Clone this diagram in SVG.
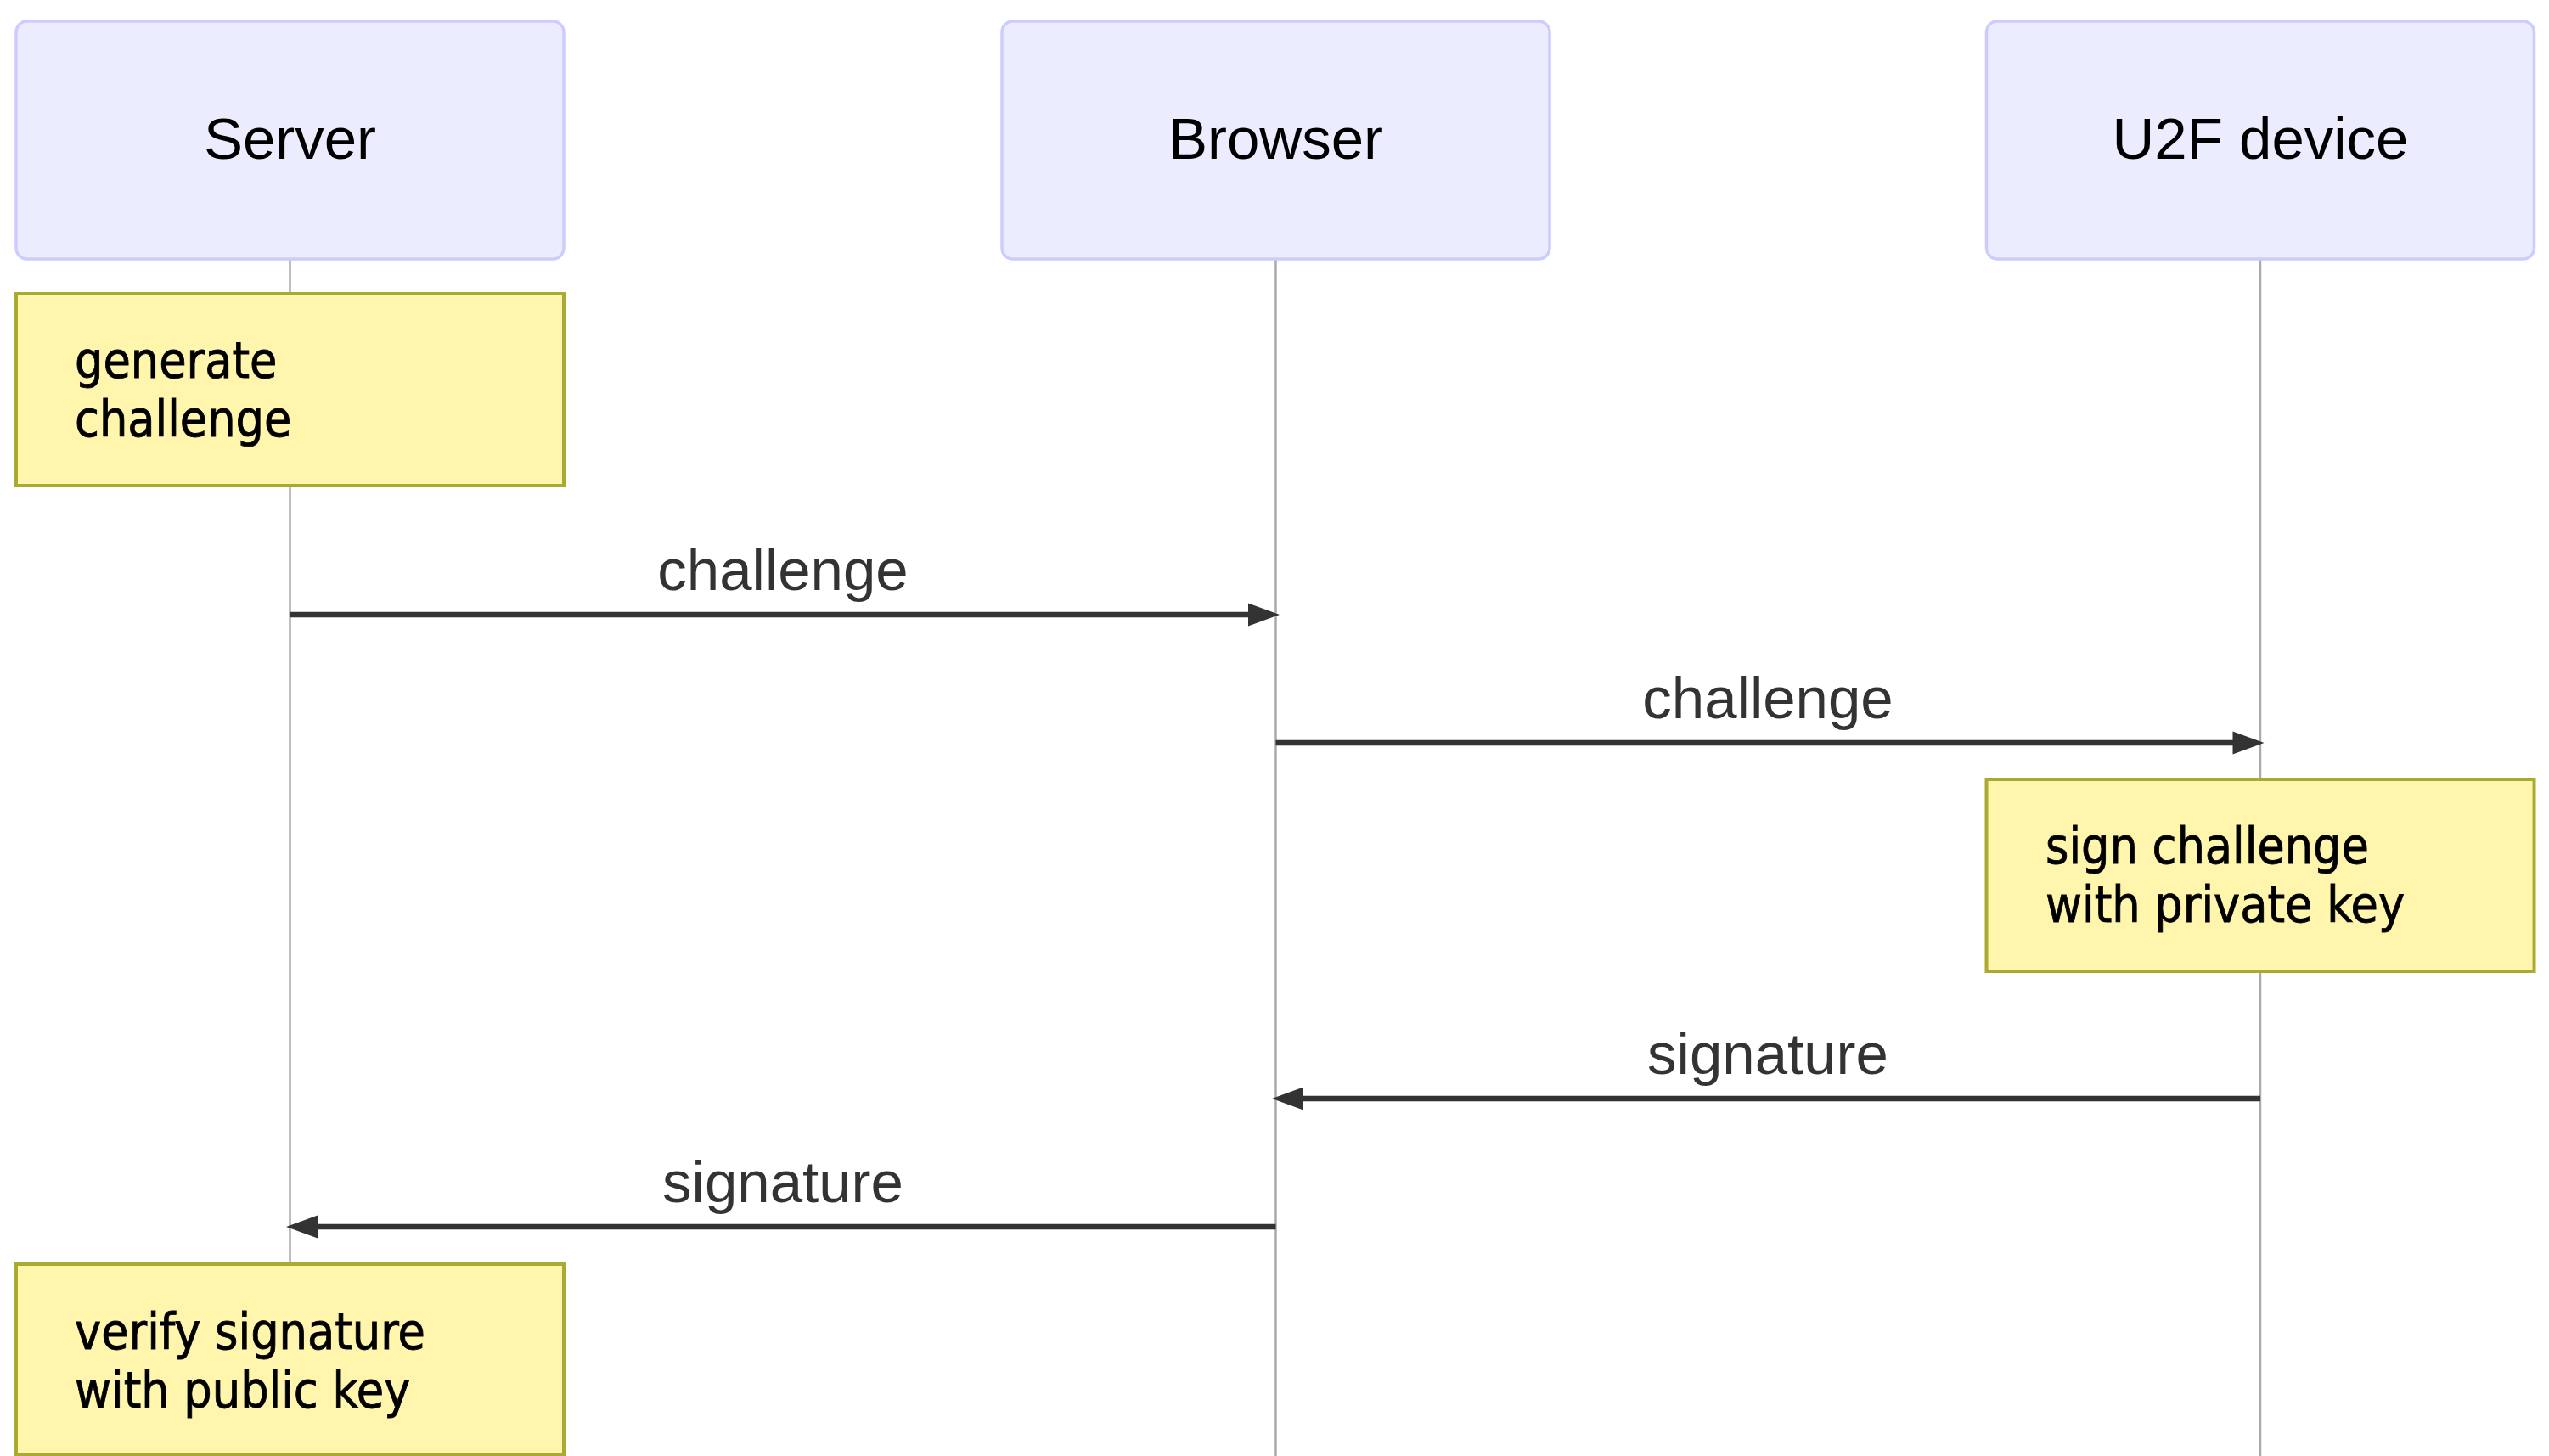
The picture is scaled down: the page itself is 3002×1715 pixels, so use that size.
<svg xmlns="http://www.w3.org/2000/svg" width="3002" height="1715" viewBox="0 0 3002 1715">
  <style>
    .actor rect { fill: #ECECFF; stroke: #CCCCFF; stroke-width: 3.5; }
    .actor text { font-family: "Liberation Sans", Arial, sans-serif; font-size: 69px; fill: #000; text-anchor: middle; }
    .lifeline { stroke: #aaaaaa; stroke-width: 2.5; }
    .note rect { fill: #FFF5AD; stroke: #AAAA33; stroke-width: 4; }
    .note text { font-family: "DejaVu Sans Condensed", "DejaVu Sans", sans-serif; font-stretch: semi-condensed; font-size: 58.5px; fill: #000; stroke: #000; stroke-width: 0.8; }
    .msg line { stroke: #333; stroke-width: 6.5; }
    .msg path { fill: #333; }
    .msg text { font-family: "Liberation Sans", Arial, sans-serif; font-size: 69px; fill: #333; text-anchor: middle; }
  </style>
  <rect x="0" y="0" width="3002" height="1715" fill="#ffffff"/>
  <g id="lifelines">
    <line class="lifeline" x1="341.5" y1="305" x2="341.5" y2="1715"/>
    <line class="lifeline" x1="1502.5" y1="305" x2="1502.5" y2="1715"/>
    <line class="lifeline" x1="2662" y1="305" x2="2662" y2="1715"/>
  </g>
  <g id="actor-server" class="actor">
    <rect x="19" y="25" width="645" height="280" rx="13" ry="13"/>
    <text x="341.5" y="187">Server</text>
  </g>
  <g id="actor-browser" class="actor">
    <rect x="1180" y="25" width="645" height="280" rx="13" ry="13"/>
    <text x="1502.5" y="187">Browser</text>
  </g>
  <g id="actor-u2f" class="actor">
    <rect x="2339.5" y="25" width="645" height="280" rx="13" ry="13"/>
    <text x="2662" y="187">U2F device</text>
  </g>
  <g id="note-generate" class="note">
    <rect x="19" y="346" width="645" height="226"/>
    <text x="88" y="445">generate</text>
    <text x="88" y="514">challenge</text>
  </g>
  <g id="note-sign" class="note">
    <rect x="2339.5" y="918" width="645" height="226"/>
    <text x="2409" y="1017">sign challenge</text>
    <text x="2409" y="1086">with private key</text>
  </g>
  <g id="note-verify" class="note">
    <rect x="19" y="1489" width="645" height="224"/>
    <text x="88" y="1589">verify signature</text>
    <text x="88" y="1658">with public key</text>
  </g>
  <g id="connectors">
    <g class="msg" id="msg1">
      <line x1="341.5" y1="724" x2="1475" y2="724"/>
      <path d="M1470 710.5 L1507 724 L1470 737.5 Z"/>
      <text x="922" y="695">challenge</text>
    </g>
    <g class="msg" id="msg2">
      <line x1="1502.5" y1="875" x2="2634" y2="875"/>
      <path d="M2629.5 861.5 L2666.5 875 L2629.5 888.5 Z"/>
      <text x="2082" y="846">challenge</text>
    </g>
    <g class="msg" id="msg3">
      <line x1="2662" y1="1294" x2="1530" y2="1294"/>
      <path d="M1535 1280.5 L1498 1294 L1535 1307.5 Z"/>
      <text x="2082" y="1265">signature</text>
    </g>
    <g class="msg" id="msg4">
      <line x1="1502.5" y1="1445" x2="369" y2="1445"/>
      <path d="M374 1431.5 L337 1445 L374 1458.5 Z"/>
      <text x="922" y="1416">signature</text>
    </g>
  </g>
</svg>
